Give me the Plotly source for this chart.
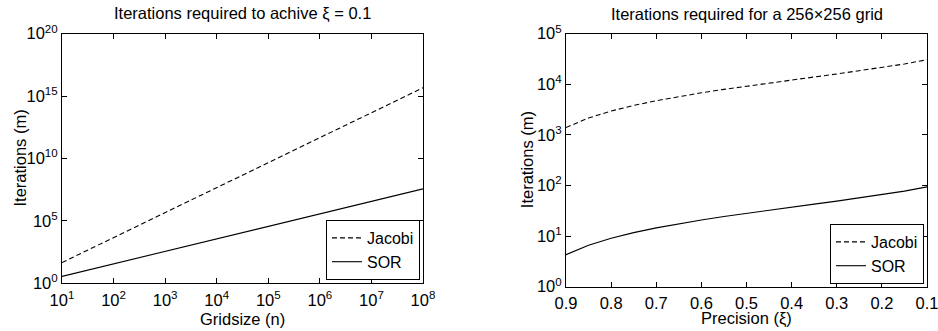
import plotly.graph_objects as go

# ---------------- data ----------------
gridsize = [1e1, 1e2, 1e3, 1e4, 1e5, 1e6, 1e7, 1e8]
jacobi_grid = [45.9, 4.665e3, 4.666e5, 4.666e7, 4.666e9, 4.666e11, 4.666e13, 4.666e15]
sor_grid = [3.60, 36.65, 366.5, 3.665e3, 3.665e4, 3.665e5, 3.665e6, 3.665e7]

precision = [0.90, 0.85, 0.80, 0.75, 0.70, 0.65, 0.60, 0.55, 0.50,
             0.45, 0.40, 0.35, 0.30, 0.25, 0.20, 0.15, 0.10]
jacobi_prec = [1399, 2158, 2963, 3820, 4737, 5721, 6784, 7939, 9205,
               10604, 12168, 13942, 15989, 18410, 21373, 25194, 30578]
sor_prec = [4.29, 6.62, 9.09, 11.72, 14.53, 17.55, 20.81, 24.36, 28.24,
            32.53, 37.33, 42.77, 49.05, 56.48, 65.57, 77.29, 93.82]

left_x_tickvals = [1e1, 1e2, 1e3, 1e4, 1e5, 1e6, 1e7, 1e8]
left_x_ticktext = ["10<sup>1</sup>", "10<sup>2</sup>", "10<sup>3</sup>", "10<sup>4</sup>",
                   "10<sup>5</sup>", "10<sup>6</sup>", "10<sup>7</sup>", "10<sup>8</sup>"]
left_y_tickvals = [1, 1e5, 1e10, 1e15, 1e20]
left_y_ticktext = ["10<sup>0</sup>", "10<sup>5</sup>", "10<sup>10</sup>",
                   "10<sup>15</sup>", "10<sup>20</sup>"]
right_x_tickvals = [0.9, 0.8, 0.7, 0.6, 0.5, 0.4, 0.3, 0.2, 0.1]
right_x_ticktext = ["0.9", "0.8", "0.7", "0.6", "0.5", "0.4", "0.3", "0.2", "0.1"]
right_y_tickvals = [1, 1e1, 1e2, 1e3, 1e4, 1e5]
right_y_ticktext = ["10<sup>0</sup>", "10<sup>1</sup>", "10<sup>2</sup>",
                    "10<sup>3</sup>", "10<sup>4</sup>", "10<sup>5</sup>"]

title_left = "Iterations required to achive \u03be = 0.1"
title_right = "Iterations required for a 256\u00d7256 grid"

# ---------------- figure ----------------
FONT = "Liberation Sans, Arial, Helvetica, sans-serif"
FS = 16.5
W, H = 938, 331

fig = go.Figure()
dash = "5px,3px"
fig.add_trace(go.Scatter(x=gridsize, y=jacobi_grid, mode="lines", name="Jacobi",
                         line=dict(color="black", width=1.1, dash=dash),
                         xaxis="x", yaxis="y", legend="legend"))
fig.add_trace(go.Scatter(x=gridsize, y=sor_grid, mode="lines", name="SOR",
                         line=dict(color="black", width=1.1),
                         xaxis="x", yaxis="y", legend="legend"))
fig.add_trace(go.Scatter(x=precision, y=jacobi_prec, mode="lines", name="Jacobi",
                         line=dict(color="black", width=1.1, dash=dash),
                         xaxis="x2", yaxis="y2", legend="legend2"))
fig.add_trace(go.Scatter(x=precision, y=sor_prec, mode="lines", name="SOR",
                         line=dict(color="black", width=1.1),
                         xaxis="x2", yaxis="y2", legend="legend2"))

axis_common = dict(showline=True, linecolor="black", linewidth=1, mirror="ticks",
                   ticks="inside", ticklen=5, tickcolor="black", tickwidth=1,
                   showgrid=False, zeroline=False, automargin=False,
                   ticklabeloverflow="allow",
                   tickfont=dict(family=FONT, size=FS, color="black"))

# plot-area positions in pixels
L1, R1, T1, B1 = 62, 423, 33.7, 283.3
L2, R2, T2, B2 = 566, 927, 33.7, 286.7

def px(x):
    return x / W

def py(y):
    return 1 - y / H

fig.update_layout(
    width=W, height=H,
    margin=dict(l=0, r=0, t=0, b=0, pad=0),
    paper_bgcolor="white", plot_bgcolor="white",
    font=dict(family=FONT, size=FS, color="black"),
    xaxis=dict(type="log", range=[1, 8], domain=[px(L1), px(R1)], anchor="y",
               tickvals=left_x_tickvals, ticktext=left_x_ticktext,
               ticklabelstandoff=2, **axis_common),
    yaxis=dict(type="log", range=[0, 20], domain=[py(B1), py(T1)], anchor="x",
               tickvals=left_y_tickvals, ticktext=left_y_ticktext, **axis_common),
    xaxis2=dict(type="linear", range=[0.9, 0.1], domain=[px(L2), px(R2)], anchor="y2",
                tickvals=right_x_tickvals, ticktext=right_x_ticktext,
                ticklabelstandoff=1, **axis_common),
    yaxis2=dict(type="log", range=[0, 5], domain=[py(B2), py(T2)], anchor="x2",
                tickvals=right_y_tickvals, ticktext=right_y_ticktext, **axis_common),
    legend=dict(x=px(420), y=py(280), xanchor="right", yanchor="bottom",
                bgcolor="white", bordercolor="black", borderwidth=1,
                font=dict(family=FONT, size=16, color="black"),
                itemwidth=30, tracegroupgap=0),
    legend2=dict(x=px(924), y=py(284), xanchor="right", yanchor="bottom",
                 bgcolor="white", bordercolor="black", borderwidth=1,
                 font=dict(family=FONT, size=16, color="black"),
                 itemwidth=30, tracegroupgap=0),
    showlegend=True,
)

ann_font = dict(family=FONT, size=FS, color="black")
annotations = [
    dict(text=title_left, x=px((L1 + R1) / 2), y=py(13.5), xref="paper", yref="paper",
         xanchor="center", yanchor="middle", showarrow=False, font=ann_font),
    dict(text=title_right, x=px((L2 + R2) / 2), y=py(13.5), xref="paper", yref="paper",
         xanchor="center", yanchor="middle", showarrow=False, font=ann_font),
    dict(text="Gridsize (n)", x=px((L1 + R1) / 2), y=py(318.5), xref="paper", yref="paper",
         xanchor="center", yanchor="middle", showarrow=False, font=ann_font),
    dict(text="Precision (\u03be)", x=px((L2 + R2) / 2), y=py(318.5), xref="paper", yref="paper",
         xanchor="center", yanchor="middle", showarrow=False, font=ann_font),
    dict(text="Iterations (m)", x=px(19), y=py((T1 + B1) / 2), xref="paper", yref="paper",
         xanchor="center", yanchor="middle", textangle=-90, showarrow=False, font=ann_font),
    dict(text="Iterations (m)", x=px(527), y=py((T2 + B2) / 2), xref="paper", yref="paper",
         xanchor="center", yanchor="middle", textangle=-90, showarrow=False, font=ann_font),
]
fig.update_layout(annotations=annotations)

fig.write_html("out.html",
               config={"displayModeBar": False},
               post_script="document.body.style.margin='0';document.body.style.overflow='hidden';")
